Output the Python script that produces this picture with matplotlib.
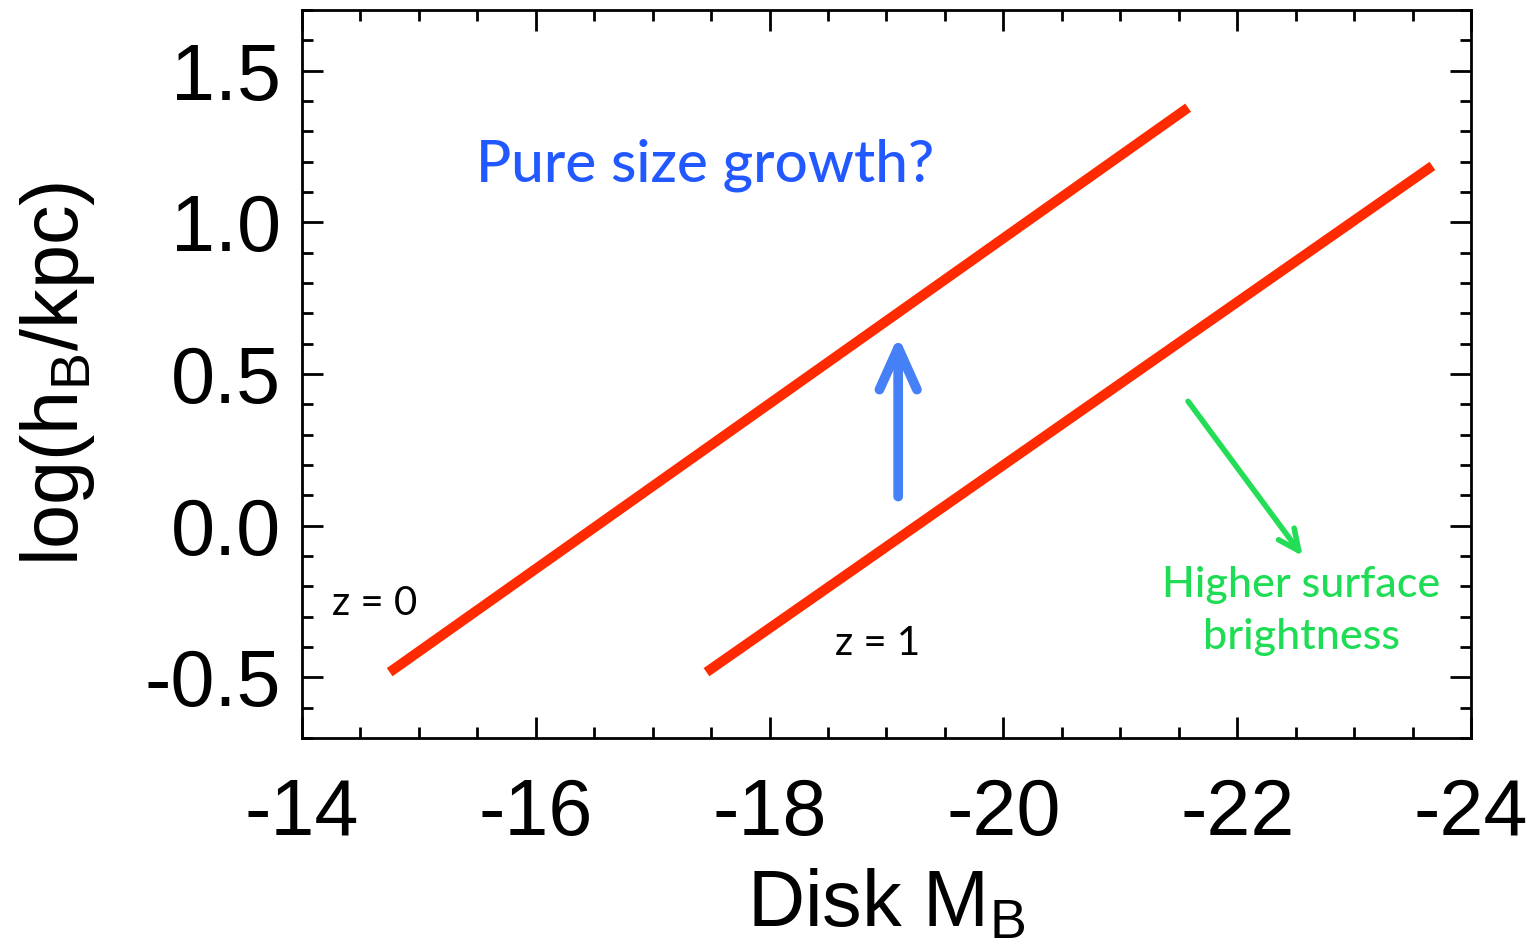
import matplotlib
matplotlib.use("Agg")
import matplotlib.pyplot as plt
from matplotlib.ticker import MultipleLocator

plt.rcParams['font.family'] = ['Liberation Sans', 'DejaVu Sans']
plt.rcParams['mathtext.default'] = 'regular'

# Data
z0_MB = [-14.75, -21.58]
z0_logh = [-0.483, 1.378]
z1_MB = [-17.46, -23.67]
z1_logh = [-0.483, 1.186]
growth_arrow_x = [-19.1, -19.1]
growth_arrow_y = [0.096, 0.625]
sb_arrow_x = [-21.58, -22.56]
sb_arrow_y = [0.41, -0.10]
x_ticks = [-14, -16, -18, -20, -22, -24]
y_ticks = [-0.5, 0.0, 0.5, 1.0, 1.5]

fig = plt.figure(figsize=(15.38, 9.46), dpi=100)
ax = fig.add_axes([302/1538, 1-738/946, (1471-302)/1538, (738-10)/946])

red = '#ff2a00'
ax.plot(z0_MB, z0_logh, color=red, lw=7.2, solid_capstyle='butt')
ax.plot(z1_MB, z1_logh, color=red, lw=7.2, solid_capstyle='butt')

ax.annotate('', xy=(growth_arrow_x[1], growth_arrow_y[1]),
            xytext=(growth_arrow_x[0], growth_arrow_y[0]),
            arrowprops=dict(arrowstyle='->,head_length=3.0,head_width=1.35',
                            color='#4680f7', lw=7, capstyle='round',
                            joinstyle='round', shrinkA=0, shrinkB=0))
ax.annotate('', xy=(sb_arrow_x[1], sb_arrow_y[1]),
            xytext=(sb_arrow_x[0], sb_arrow_y[0]),
            arrowprops=dict(arrowstyle='->,head_length=1.5,head_width=0.7',
                            color='#22dd55', lw=4, capstyle='round',
                            joinstyle='round', shrinkA=0, shrinkB=0))

ann_font = ['Lato', 'DejaVu Sans']
ax.text(-17.45, 1.134, 'Pure size growth?', color='#2158ff', fontsize=42,
        family=ann_font, ha='center', va='baseline', fontweight='medium')
ax.text(-14.62, -0.294, 'z = 0', color='black', fontsize=29,
        family=ann_font, ha='center', va='baseline')
ax.text(-18.92, -0.425, 'z = 1', color='black', fontsize=29,
        family=ann_font, ha='center', va='baseline')
ax.text(-22.55, -0.234, 'Higher surface', color='#1fdc55', fontsize=31,
        family=ann_font, ha='center', va='baseline', fontweight='medium')
ax.text(-22.55, -0.406, 'brightness', color='#1fdc55', fontsize=31,
        family=ann_font, ha='center', va='baseline', fontweight='medium')

ax.set_xlim(-14, -24)
ax.set_ylim(-0.7, 1.7)
ax.set_xticks(x_ticks)
ax.set_xticklabels([str(v) for v in x_ticks])
ax.set_yticks(y_ticks)
ax.set_yticklabels(['%.1f' % v for v in y_ticks])
ax.xaxis.set_minor_locator(MultipleLocator(0.5))
ax.yaxis.set_minor_locator(MultipleLocator(0.1))
ax.tick_params(which='both', direction='in', top=True, right=True, width=2)
ax.tick_params(which='major', length=15, labelsize=57)
ax.tick_params(which='minor', length=8)
ax.tick_params(axis='x', which='major', pad=28)
ax.tick_params(axis='y', which='major', pad=15)
for s in ax.spines.values():
    s.set_linewidth(2)

ax.set_xlabel('Disk M$_B$', fontsize=57, labelpad=12)
ax.set_ylabel('log(h$_B$/kpc)', fontsize=57, labelpad=34)

fig.savefig('out.png', dpi=100)
